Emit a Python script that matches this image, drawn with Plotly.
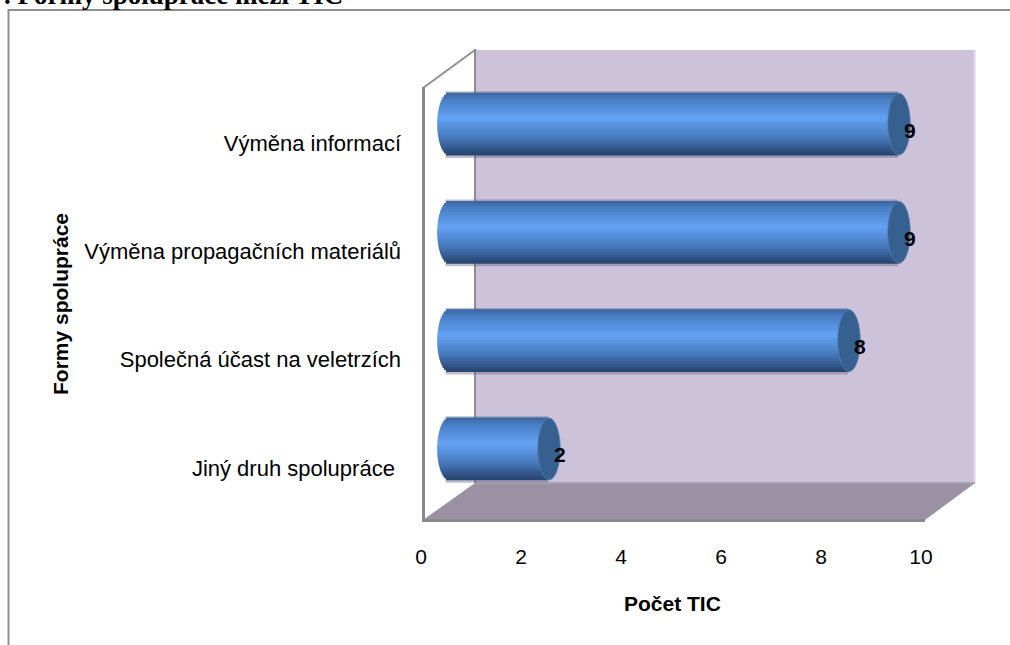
import math
import plotly.graph_objects as go

categories = ["Jiný druh spolupráce ", "Společná účast na veletrzích",
              "Výměna propagačních materiálů", "Výměna informací"]
values = [2, 8, 9, 9]
x_ticks = [0, 2, 4, 6, 8, 10]
x_title = "Počet TIC"
y_title = "Formy spolupráce"
page_title = ". Formy spolupráce mezi TIC"

L, T, W, H = 419, 50, 556, 470
def px(x): return (x - L) / W
def py(y): return 1 - (y - T) / H

FONT = "Liberation Sans"
GREY = "#8a8a8a"

# gradient of the cylinder (position from top, colour)
stops = [(0.0, (58, 102, 160)), (0.12, (74, 128, 198)), (0.42, (100, 162, 246)),
         (0.72, (72, 124, 190)), (0.88, (54, 92, 146)), (1.0, (40, 68, 110))]
def grad(t):
    for (a, c0), (b, c1) in zip(stops, stops[1:]):
        if t <= b:
            f = (t - a) / (b - a)
            return "rgb(%d,%d,%d)" % tuple(c0[i] + (c1[i] - c0[i]) * f for i in range(3))
    return "rgb(40,68,110)"

fig = go.Figure()
BAR_H = 0.57
RX_L = 0.235
RX_R = 0.225

# soft shadow behind the cylinders
fig.add_trace(go.Bar(orientation="h", y=categories, x=[v + 0.05 for v in values],
                     base=[-0.07] * 4, width=BAR_H + 0.045, offset=-(BAR_H + 0.045) / 2 - 0.005,
                     marker=dict(color="rgba(95,95,125,0.4)", line=dict(width=0)),
                     xaxis="x2", yaxis="y3", hoverinfo="skip", showlegend=False))

N = 31
for k in range(N):
    t = (k + 0.5) / N
    u = 2 * t - 1
    b = -RX_L * math.sqrt(max(0, 1 - u * u))
    h = BAR_H / N
    fig.add_trace(go.Bar(orientation="h", y=categories, x=[v - b for v in values],
                         base=[b] * 4, width=h * 1.5, offset=BAR_H / 2 - (k + 1) * h - h * 0.25,
                         marker=dict(color=grad(t), line=dict(width=0)),
                         xaxis="x2", yaxis="y3", hoverinfo="skip", showlegend=False))

# invisible traces that carry the tick labels of the two visible axes
fig.add_trace(go.Scatter(x=[0, 10], y=[0, 1], mode="markers", marker=dict(opacity=0),
                         xaxis="x", yaxis="y", hoverinfo="skip", showlegend=False))
fig.add_trace(go.Scatter(x=values, y=categories, mode="markers", marker=dict(opacity=0),
                         xaxis="x2", yaxis="y2", hoverinfo="skip", showlegend=False))

shapes = []
def poly(pts, fill, line=None, lw=0, layer="below"):
    d = "M " + " L ".join("%.5f,%.5f" % (px(x), py(y)) for x, y in pts) + " Z"
    shapes.append(dict(type="path", path=d, xref="paper", yref="paper", fillcolor=fill,
                       line=dict(color=line or "rgba(0,0,0,0)", width=lw), layer=layer))
def seg(x0, y0, x1, y1, color=GREY, w=2, layer="below"):
    shapes.append(dict(type="line", xref="paper", yref="paper", x0=px(x0), y0=py(y0),
                       x1=px(x1), y1=py(y1), line=dict(color=color, width=w), layer=layer))

poly([(475, 50), (975, 50), (975, 483), (475, 483)], "#ccc2da")
seg(974.5, 50, 974.5, 483, "#dbd5e6", 2)
poly([(423, 520), (925, 520), (975, 483), (475, 483)], "#9c90a3")
seg(475, 483, 975, 483, "#aaa0b4", 2)
seg(475, 49, 475, 483, "#8f8a94", 2)
seg(423, 88, 475, 50, "#8f8f8f", 2)
seg(423.5, 87, 423.5, 521, GREY, 3)
seg(422, 520.5, 925, 520.5, GREY, 3)
# outer frame
seg(8, 10, 1010, 10, "#8f8f8f", 2)
seg(8.5, 9, 8.5, 645, "#8f8f8f", 2)

# end caps of the cylinders, placed by the data scales
for i, v in enumerate(values):
    shapes.append(dict(type="circle", xref="x2", yref="y3", x0=v - RX_R, x1=v + RX_R,
                       y0=i - BAR_H / 2, y1=i + BAR_H / 2, fillcolor="#35608f",
                       line=dict(color="rgba(85,125,175,0.8)", width=1), layer="above"))

ann = [dict(x=v, y=categories[i], xref="x2", yref="y3", text="<b>%d</b>" % v, showarrow=False,
            xshift=11, yshift=-6, font=dict(family=FONT, size=21, color="black"))
       for i, v in enumerate(values)]
ann += [
    dict(x=px(672), y=py(603), xref="paper", yref="paper", text="<b>%s</b>" % x_title, showarrow=False,
         xanchor="center", yanchor="middle", font=dict(family=FONT, size=21, color="black")),
    dict(x=px(60), y=py(304), xref="paper", yref="paper", text="<b>%s</b>" % y_title, showarrow=False,
         xanchor="center", yanchor="middle", textangle=-90, font=dict(family=FONT, size=21, color="black")),
    dict(x=px(2), y=py(-5), xref="paper", yref="paper", text="<b>%s</b>" % page_title, showarrow=False,
         xanchor="left", yanchor="middle", font=dict(family="Liberation Serif", size=27, color="black")),
]

fig.update_layout(
    width=1010, height=645, autosize=False,
    margin=dict(l=L, r=1010 - L - W, t=T, b=645 - T - H),
    paper_bgcolor="white", plot_bgcolor="rgba(0,0,0,0)",
    barmode="overlay", showlegend=False,
    shapes=shapes, annotations=ann,
    font=dict(family=FONT, size=18, color="black"),
    xaxis=dict(range=[-0.04, W / 50 - 0.04], tickvals=x_ticks, showgrid=False, zeroline=False, showline=False,
               ticks="", ticklabelstandoff=22, anchor="y", fixedrange=True,
               tickfont=dict(family=FONT, size=21)),
    yaxis=dict(range=[0, 1], visible=False, fixedrange=True),
    xaxis2=dict(range=[-0.6, W / 50 - 0.6], overlaying="x", visible=False, fixedrange=True),
    yaxis2=dict(type="category", categoryarray=categories, categoryorder="array",
                range=[-0.48, 3.86], overlaying="y", anchor="free", position=0, side="left",
                showgrid=False, zeroline=False, showline=False, ticks="",
                ticklabelstandoff=18, fixedrange=True, tickfont=dict(family=FONT, size=22)),
    yaxis3=dict(type="category", categoryarray=categories, categoryorder="array",
                range=[-0.656, 3.684], overlaying="y", visible=False, fixedrange=True),
)
fig.write_html("out.html", config=dict(displayModeBar=False),
               post_script="document.body.style.margin='0';document.body.style.overflow='hidden';")
